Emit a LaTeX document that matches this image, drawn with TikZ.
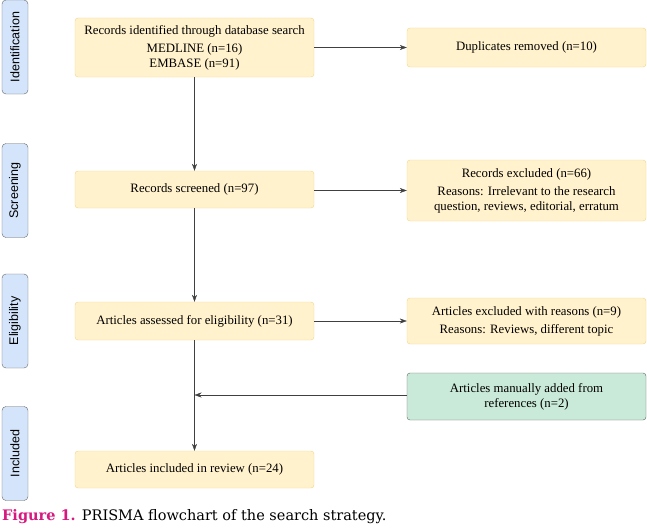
\documentclass[tikz,border=0pt]{standalone}
\usepackage{fontspec}
\setmainfont{Liberation Serif}
\setsansfont{Liberation Sans}
\newfontfamily\capfont{DejaVu Serif}
\usetikzlibrary{arrows.meta}
\definecolor{boxfill}{HTML}{FFF2CC}
\definecolor{boxline}{HTML}{F2D58A}
\definecolor{addfill}{HTML}{C9EAD8}
\definecolor{stagefill}{HTML}{D4E4FA}
\definecolor{figpink}{HTML}{D6187F}
\tikzset{
	stepbox/.style={draw=boxline, fill=boxfill, rounded corners=3pt, align=center, inner sep=0pt,
		minimum width=239, font=\fontsize{12.8}{15}\selectfont},
	addbox/.style={stepbox, draw=black!60, fill=addfill},
	stage/.style={draw=black!60, fill=stagefill, rounded corners=4pt, minimum width=94, minimum height=26,
		inner sep=0pt, rotate=90, font=\sffamily\fontsize{12.5}{14}\selectfont},
	flow/.style={draw=black!75, -{Stealth[length=7pt,width=5pt]}}
}
\begin{document}
\begin{tikzpicture}[x=1pt, y=-1pt]
		\useasboundingbox (0,0) rectangle (647,527);
		
		%Stages
		\node[stage] (S1) at (15,47) {Identification};
		\node[stage] (S2) at (15,190.5) {Screening};
		\node[stage] (S3) at (15,321) {Eligibility};
		\node[stage] (S4) at (15,453.5) {Included};
		
		%Main column
		\def\x{194.5}
		\node[stepbox, minimum height=59] (ident) at (\x,47.5) {Records identified through database search\\[3pt] MEDLINE (n=16)\\ EMBASE (n=91)};
		\node[stepbox, minimum height=37] (screen) at (\x,189.5) {Records screened (n=97)};
		\node[stepbox, minimum height=38] (assess) at (\x,321) {Articles assessed for eligibility (n=31)};
		\node[stepbox, minimum height=37] (incl) at (\x,469.5) {Articles included in review (n=24)};
		
		%Right column
		\def\r{526.5}
		\node[stepbox, minimum height=39] (dup) at (\r,47.5) {Duplicates removed (n=10)};
		\node[stepbox, minimum height=61] (recex) at (\r,190.5) {Records excluded (n=66)\\[3pt] Reasons: Irrelevant to the research\\ question, reviews, editorial, erratum};
		\node[stepbox, minimum height=46] (artex) at (\r,321) {Articles excluded with reasons (n=9)\\[3pt] Reasons: Reviews, different topic};
		\node[addbox, minimum height=47] (manual) at (\r,396.5) {Articles manually added from\\ references (n=2)};
		\coordinate (join) at (\x,395);
		
		%Connectors
		\draw[flow] (ident.east |- dup.west) -- (dup.west);
		\draw[flow] (ident) -- (screen);
		\draw[flow] (screen.east |- recex.west) -- (recex.west);
		\draw[flow] (screen) -- (assess);
		\draw[flow] (assess.east) -- (artex.west |- assess.east);
		\draw[flow] (assess) -- (incl);
		\draw[flow] (manual.west |- join) -- (join);
		
		%Caption
		\node[anchor=base west, inner sep=0pt, font=\capfont\fontsize{14.5}{17}\selectfont] (cap) at (2,520)
			{\textcolor{figpink}{\bfseries Figure 1.} PRISMA flowchart of the search strategy.};
	\end{tikzpicture}
\end{document}
